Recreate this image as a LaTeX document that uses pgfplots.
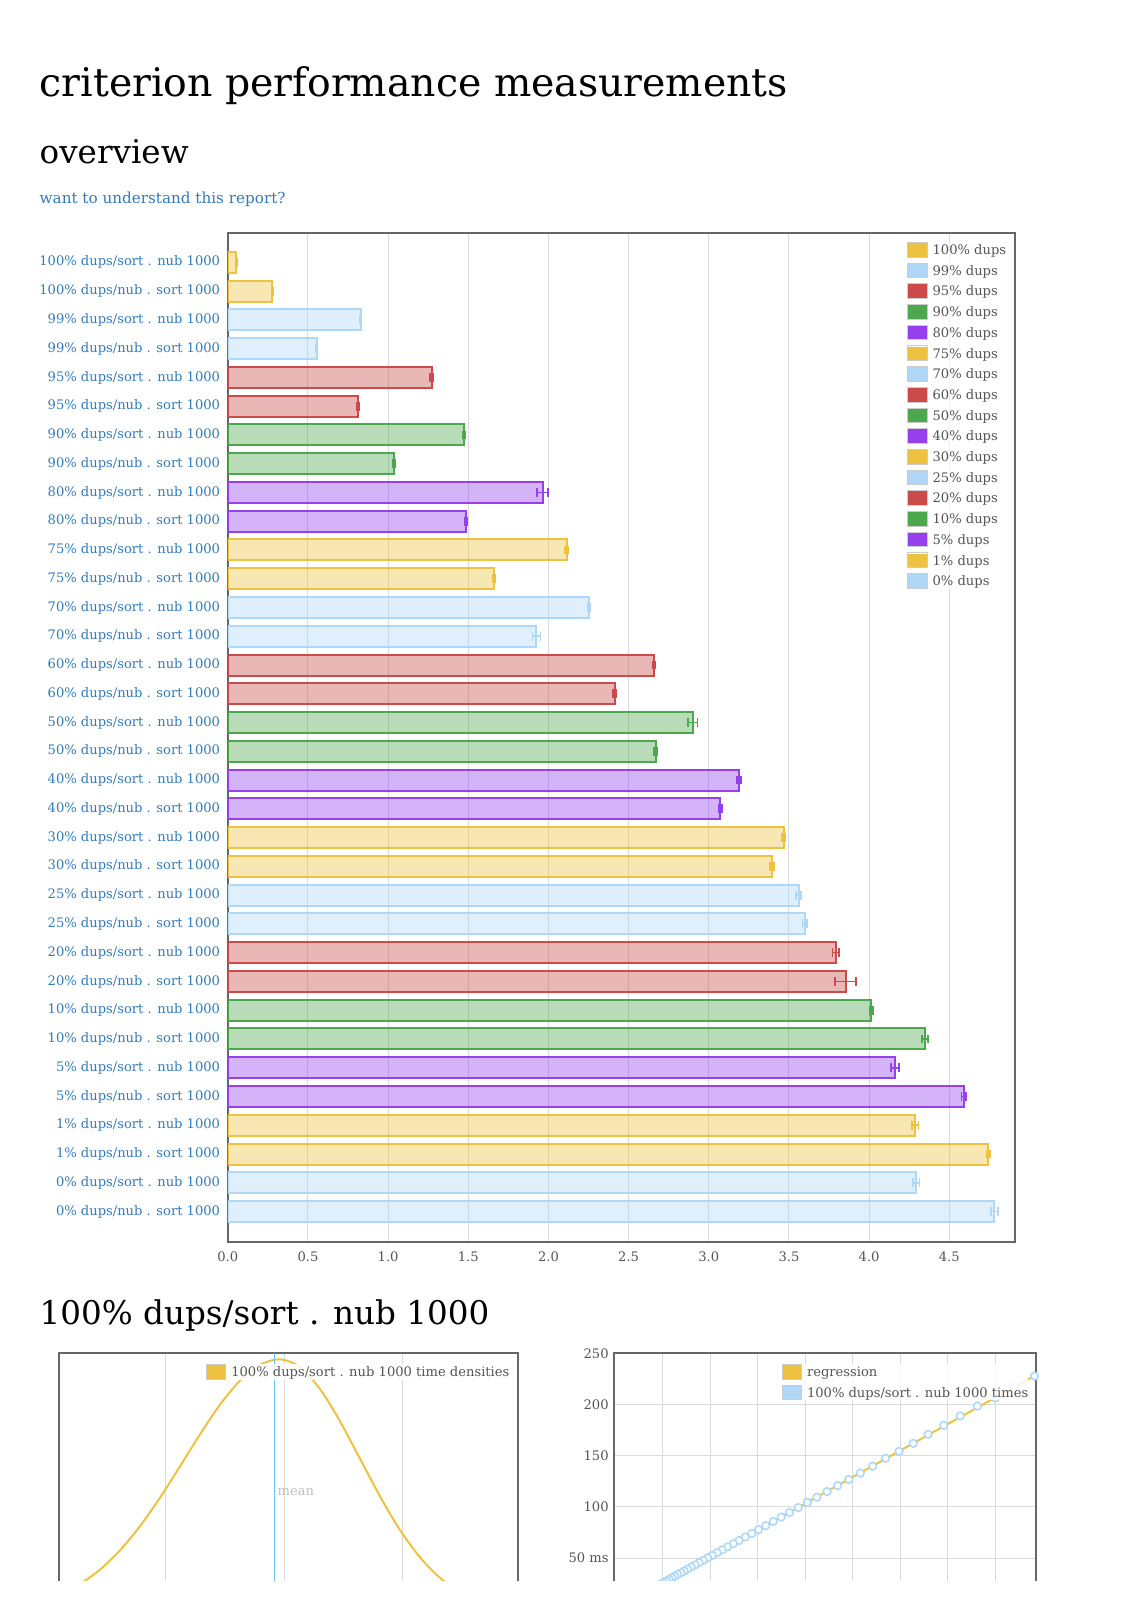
\documentclass[border=0pt]{standalone}
\usepackage{pgfplots}
\pgfplotsset{compat=1.18}
\usepackage{fontspec}
\setmainfont{DejaVu Serif}
\definecolor{cY}{HTML}{EDC240}
\definecolor{cB}{HTML}{AFD8F8}
\definecolor{cR}{HTML}{CB4B4B}
\definecolor{cG}{HTML}{4DA74D}
\definecolor{cP}{HTML}{9440ED}
\definecolor{txtgrey}{HTML}{545454}
\definecolor{linkblue}{HTML}{337AB7}
\definecolor{framegrey}{HTML}{666666}
\definecolor{gridgrey}{HTML}{DADADA}
\definecolor{meanblue}{RGB}{100,195,250}
\newcommand{\ticksize}{\fontsize{6.55pt}{7.8pt}\selectfont}
\pgfplotsset{
  swatch/.style={legend image code/.code={%
      \draw[draw=black!20, fill=white, fill opacity=1, draw opacity=1, line width=0.5pt] (0pt,-3.07pt) rectangle (9.65pt,4.28pt);
      \fill[fill opacity=1] (0.8pt,-2.3pt) rectangle (8.85pt,3.5pt);}},
  ser/.style={draw=#1, fill=#1, fill opacity=0.4, draw opacity=1, line width=1pt,
    bar shift=0pt, bar width=10.5pt, swatch,
    error bars/.cd, x dir=both, x explicit, error mark=|,
    error bar style={draw=#1, line width=0.8pt, draw opacity=1},
    error mark options={draw=#1, mark size=2.2pt, line width=0.8pt}},
  lgd/.style={legend cell align=left,
    legend style={at={#1}, anchor=north west, draw=none, fill=white, fill opacity=0.85, text opacity=1,
    inner sep=0pt, outer sep=0pt, row sep=2.5pt, column sep=2.5pt, font=\ticksize, text=txtgrey,
    nodes={inner sep=0pt}}},
}
\begin{document}
\begin{tikzpicture}
\useasboundingbox (0,0) rectangle (565.5pt,-800pt);
\clip (0,0) rectangle (565.5pt,-790pt);
\node[anchor=base west, inner sep=0pt, font=\fontsize{19.7pt}{23pt}\selectfont] at (19.65pt,-48.35pt) {criterion performance measurements};
\node[anchor=base west, inner sep=0pt, font=\fontsize{16.3pt}{19pt}\selectfont] at (19.65pt,-81.65pt) {overview};
\node[anchor=base west, inner sep=0pt, text=linkblue, font=\fontsize{7.6pt}{9pt}\selectfont] at (19.65pt,-101.65pt) {want to understand this report?};
\node[anchor=base west, inner sep=0pt, font=\fontsize{16.3pt}{19pt}\selectfont] at (19.65pt,-662pt) {100\% dups/sort . nub 1000};

\begin{axis}[
  at={(113.9pt,-620.85pt)}, anchor=south west,
  scale only axis, width=393.6pt, height=504.35pt,
  xbar,
  xmin=0, xmax=4.91, ymin=-1.02, ymax=34.05, y dir=reverse,
  xtick={0,0.5,1,1.5,2,2.5,3,3.5,4,4.5},
  xticklabels={0.0,0.5,1.0,1.5,2.0,2.5,3.0,3.5,4.0,4.5},
  ytick={0,1,...,33},
  yticklabels={100\% dups/sort . nub 1000,100\% dups/nub . sort 1000,
    99\% dups/sort . nub 1000,99\% dups/nub . sort 1000,
    95\% dups/sort . nub 1000,95\% dups/nub . sort 1000,
    90\% dups/sort . nub 1000,90\% dups/nub . sort 1000,
    80\% dups/sort . nub 1000,80\% dups/nub . sort 1000,
    75\% dups/sort . nub 1000,75\% dups/nub . sort 1000,
    70\% dups/sort . nub 1000,70\% dups/nub . sort 1000,
    60\% dups/sort . nub 1000,60\% dups/nub . sort 1000,
    50\% dups/sort . nub 1000,50\% dups/nub . sort 1000,
    40\% dups/sort . nub 1000,40\% dups/nub . sort 1000,
    30\% dups/sort . nub 1000,30\% dups/nub . sort 1000,
    25\% dups/sort . nub 1000,25\% dups/nub . sort 1000,
    20\% dups/sort . nub 1000,20\% dups/nub . sort 1000,
    10\% dups/sort . nub 1000,10\% dups/nub . sort 1000,
    5\% dups/sort . nub 1000,5\% dups/nub . sort 1000,
    1\% dups/sort . nub 1000,1\% dups/nub . sort 1000,
    0\% dups/sort . nub 1000,0\% dups/nub . sort 1000},
  major tick length=0pt,
  xmajorgrids, grid style={draw=gridgrey, line width=0.5pt},
  axis line style={draw=framegrey, line width=1pt},
  xticklabel style={font=\ticksize, text=txtgrey, anchor=north, inner sep=0pt, yshift=-4.65pt},
  yticklabel style={font=\ticksize, text=linkblue, anchor=east, inner sep=0pt, xshift=-3.65pt},
  lgd={(0.8632,0.9911)},
  legend style={fill opacity=0.6},
]
\addplot[ser=cY] coordinates {(0.054,0) +- (0.004,0) (0.278,1) +- (0.004,0)};
\addlegendentry{100\% dups}
\addplot[ser=cB] coordinates {(0.828,2) +- (0.006,0) (0.554,3) +- (0.006,0)};
\addlegendentry{99\% dups}
\addplot[ser=cR] coordinates {(1.271,4) +- (0.008,0) (0.813,5) +- (0.006,0)};
\addlegendentry{95\% dups}
\addplot[ser=cG] coordinates {(1.473,6) +- (0.008,0) (1.039,7) +- (0.007,0)};
\addlegendentry{90\% dups}
\addplot[ser=cP] coordinates {(1.963,8) +- (0.033,0) (1.485,9) +- (0.008,0)};
\addlegendentry{80\% dups}
\addplot[ser=cY] coordinates {(2.113,10) +- (0.008,0) (1.658,11) +- (0.008,0)};
\addlegendentry{75\% dups}
\addplot[ser=cB] coordinates {(2.251,12) +- (0.008,0) (1.925,13) +- (0.025,0)};
\addlegendentry{70\% dups}
\addplot[ser=cR] coordinates {(2.658,14) +- (0.010,0) (2.414,15) +- (0.010,0)};
\addlegendentry{60\% dups}
\addplot[ser=cG] coordinates {(2.899,16) +- (0.030,0) (2.668,17) +- (0.008,0)};
\addlegendentry{50\% dups}
\addplot[ser=cP] coordinates {(3.189,18) +- (0.012,0) (3.072,19) +- (0.012,0)};
\addlegendentry{40\% dups}
\addplot[ser=cY] coordinates {(3.466,20) +- (0.010,0) (3.394,21) +- (0.012,0)};
\addlegendentry{30\% dups}
\addplot[ser=cB] coordinates {(3.560,22) +- (0.015,0) (3.599,23) +- (0.015,0)};
\addlegendentry{25\% dups}
\addplot[ser=cR] coordinates {(3.792,24) +- (0.020,0) (3.853,25) +- (0.065,0)};
\addlegendentry{20\% dups}
\addplot[ser=cG] coordinates {(4.013,26) +- (0.010,0) (4.349,27) +- (0.020,0)};
\addlegendentry{10\% dups}
\addplot[ser=cP] coordinates {(4.160,28) +- (0.025,0) (4.590,29) +- (0.015,0)};
\addlegendentry{5\% dups}
\addplot[ser=cY] coordinates {(4.287,30) +- (0.020,0) (4.743,31) +- (0.010,0)};
\addlegendentry{1\% dups}
\addplot[ser=cB] coordinates {(4.293,32) +- (0.020,0) (4.782,33) +- (0.020,0)};
\addlegendentry{0\% dups}
\end{axis}

% density plot
\begin{axis}[
  at={(29.65pt,-806pt)}, anchor=south west,
  scale only axis, width=229.5pt, height=129.35pt,
  xmin=59.3, xmax=518.3, ymin=0, ymax=258.7,
  xtick={165.3,284.3,402.7}, xticklabels={}, ytick=\empty,
  major tick length=0pt,
  xmajorgrids, grid style={draw=gridgrey, line width=0.5pt},
  axis line style={draw=framegrey, line width=1pt},
  lgd={(0.3196,0.9586)},
]
\addplot[color=cY, line width=1pt, smooth, no marks, swatch] coordinates {
(40,10.6) (60,17.6) (80,28.0) (100,42.4) (120,61.7) (140,85.9) (160,114.3) (180,145.7)
(200,177.7) (220,207.3) (240,231.4) (260,247.2) (280,252.7) (300,244.9) (320,223.0)
(340,190.8) (360,153.3) (380,115.7) (400,82.0) (420,54.7) (440,34.2) (460,20.1)
(480,11.1) (500,5.8) (520,2.8)};
\addlegendentry{100\% dups/sort . nub 1000 time densities}
\addplot[color=meanblue, line width=0.8pt, no marks, forget plot] coordinates {(274.3,0) (274.3,262)};
\node[anchor=base west, inner sep=0pt, font=\ticksize, text=black!25] at (axis cs:277.3,117) {mean};
\end{axis}

% regression plot
\begin{axis}[
  at={(307pt,-804.65pt)}, anchor=south west,
  scale only axis, width=211pt, height=128pt,
  xmin=-0.027, xmax=8.857, ymin=0, ymax=250,
  xtick={1,2,3,4,5,6,7,8}, xticklabels={},
  ytick={50,100,150,200,250}, yticklabels={50 ms,100,150,200,250},
  major tick length=0pt,
  grid=major, grid style={draw=gridgrey, line width=0.5pt},
  axis line style={draw=framegrey, line width=1pt},
  yticklabel style={font=\ticksize, text=txtgrey, anchor=east, inner sep=0pt, xshift=-2.5pt},
  lgd={(0.3974,0.958)},
]
\addplot[color=cY, line width=1pt, no marks, swatch] coordinates {(0,0) (8.86,229)};
\addlegendentry{regression}
\addplot[color=cB, only marks, mark=*, mark size=1.9pt, mark options={fill=white, draw=cB, line width=0.8pt}, swatch] coordinates {
(8.826,227.7) (8.406,216.9) (8.005,206.5) (7.624,198.5) (7.261,188.8) (6.915,179.7)
(6.586,170.9) (6.272,162.1) (5.974,154.3) (5.689,147.5) (5.418,139.8) (5.160,133.1)
(4.915,126.8) (4.681,120.8) (4.458,115.0) (4.245,109.5) (4.043,104.3) (3.851,99.4)
(3.667,94.6) (3.493,90.1) (3.326,85.8) (3.168,81.7) (3.017,77.8) (2.873,74.1)
(2.737,70.6) (2.606,67.2) (2.482,64.0) (2.364,61.0) (2.251,58.1) (2.144,55.3)
(2.042,52.7) (1.945,50.2) (1.852,47.8) (1.764,45.5) (1.680,43.3) (1.600,41.3)
(1.524,39.3) (1.451,37.4) (1.382,35.7) (1.316,34.0) (1.254,32.4) (1.194,30.8)
(1.137,29.3) (1.083,27.9) (1.031,26.6) (0.982,25.3) (0.935,24.1) (0.891,23.0)
(0.848,21.9) (0.808,20.8) (0.769,19.8) (0.733,18.9) (0.698,18.0) (0.665,17.2)
(0.633,16.3) (0.603,15.6)};
\addlegendentry{100\% dups/sort . nub 1000 times}
\end{axis}
\end{tikzpicture}
\end{document}
